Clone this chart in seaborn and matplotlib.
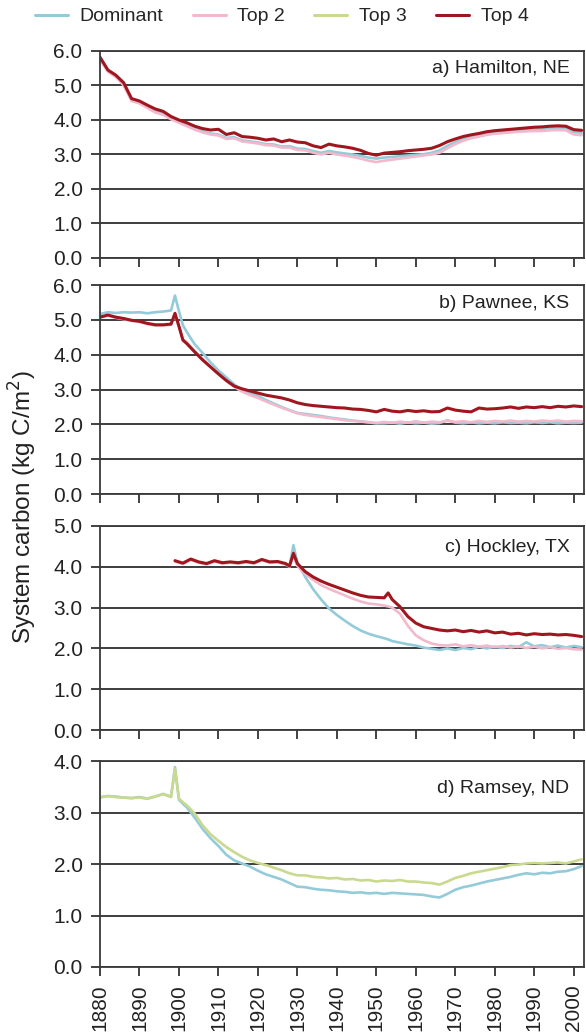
import numpy as np
import pandas as pd
import matplotlib
matplotlib.use("Agg")
import matplotlib.pyplot as plt
from matplotlib.lines import Line2D
import seaborn as sns

# ---------------- data ----------------
SERIES = ["Dominant", "Top 2", "Top 3", "Top 4"]
COLORS = {"Dominant": "#93cbd9", "Top 2": "#f2b8cc", "Top 3": "#c9da8e", "Top 4": "#a0161f"}
PANEL_LABELS = ["a) Hamilton, NE", "b) Pawnee, KS", "c) Hockley, TX", "d) Ramsey, ND"]
Y_MAX = [6.0, 6.0, 5.0, 4.0]
X_TICKS = list(range(1880, 2001, 10))

# Panel a: Hamilton, NE
A_YEARS = list(range(1880, 2003, 2))
A_TOP4 = [5.82, 5.45, 5.30, 5.08, 4.62, 4.55, 4.43, 4.32, 4.25, 4.10,
          4.00, 3.92, 3.82, 3.75, 3.71, 3.73, 3.58, 3.63, 3.52, 3.50,
          3.47, 3.42, 3.45, 3.37, 3.42, 3.36, 3.34, 3.25, 3.20, 3.30,
          3.25, 3.22, 3.18, 3.12, 3.03, 2.98, 3.04, 3.06, 3.08, 3.11,
          3.13, 3.15, 3.18, 3.26, 3.37, 3.45, 3.52, 3.57, 3.61, 3.66,
          3.69, 3.71, 3.73, 3.75, 3.77, 3.79, 3.80, 3.82, 3.83, 3.82,
          3.72, 3.70]
A_TOP2 = [5.75, 5.40, 5.25, 5.00, 4.55, 4.48, 4.35, 4.22, 4.15, 4.02,
          3.92, 3.82, 3.72, 3.64, 3.58, 3.55, 3.45, 3.47, 3.38, 3.35,
          3.32, 3.27, 3.26, 3.20, 3.20, 3.13, 3.12, 3.05, 3.00, 3.05,
          3.00, 2.97, 2.93, 2.88, 2.82, 2.78, 2.82, 2.85, 2.88, 2.91,
          2.94, 2.97, 3.00, 3.05, 3.18, 3.30, 3.40, 3.47, 3.52, 3.57,
          3.60, 3.62, 3.64, 3.66, 3.67, 3.68, 3.68, 3.70, 3.71, 3.70,
          3.58, 3.56]
A_DOM = [5.78, 5.43, 5.28, 5.03, 4.58, 4.51, 4.38, 4.25, 4.18, 4.05,
         3.95, 3.85, 3.75, 3.67, 3.61, 3.58, 3.48, 3.50, 3.41, 3.38,
         3.35, 3.30, 3.29, 3.23, 3.24, 3.17, 3.16, 3.10, 3.05, 3.10,
         3.06, 3.03, 3.00, 2.96, 2.91, 2.88, 2.91, 2.93, 2.95, 2.97,
         2.99, 3.01, 3.05, 3.12, 3.25, 3.36, 3.45, 3.51, 3.56, 3.61,
         3.64, 3.66, 3.68, 3.70, 3.72, 3.73, 3.74, 3.76, 3.77, 3.76,
         3.65, 3.63]

# Panels b and d share these years
BD_YEARS = list(range(1880, 1899, 2)) + [1899, 1900, 1901] + list(range(1902, 2003, 2))

# Panel b: Pawnee, KS
B_TOP4 = [5.08, 5.14, 5.08, 5.04, 4.99, 4.96, 4.90, 4.86, 4.86, 4.88,
          5.19, 4.82, 4.42,
          4.32, 4.08, 3.85, 3.65, 3.45, 3.26, 3.10, 3.02, 2.96, 2.90,
          2.84, 2.80, 2.76, 2.70, 2.62, 2.57, 2.54, 2.52, 2.50, 2.48,
          2.47, 2.44, 2.43, 2.40, 2.36, 2.43, 2.38, 2.36, 2.40, 2.37,
          2.39, 2.36, 2.37, 2.47, 2.41, 2.38, 2.36, 2.47, 2.44, 2.45,
          2.47, 2.50, 2.46, 2.50, 2.48, 2.51, 2.48, 2.52, 2.50, 2.53,
          2.51]
B_TOP2 = [5.06, 5.12, 5.06, 5.02, 4.97, 4.94, 4.88, 4.84, 4.84, 4.86,
          5.15, 4.80, 4.45,
          4.35, 4.10, 3.88, 3.65, 3.45, 3.25, 3.08, 2.94, 2.84, 2.76,
          2.66, 2.57, 2.48, 2.40, 2.32, 2.27, 2.24, 2.21, 2.18, 2.15,
          2.12, 2.10, 2.08, 2.06, 2.04, 2.07, 2.04, 2.08, 2.05, 2.09,
          2.05, 2.08, 2.06, 2.10, 2.07, 2.09, 2.06, 2.10, 2.07, 2.10,
          2.08, 2.11, 2.08, 2.10, 2.08, 2.11, 2.09, 2.11, 2.08, 2.10,
          2.09]
B_DOM = [5.17, 5.22, 5.20, 5.22, 5.21, 5.22, 5.19, 5.22, 5.24, 5.27,
         5.70, 5.25, 4.85,
         4.65, 4.30, 4.05, 3.78, 3.55, 3.35, 3.15, 2.98, 2.90, 2.82,
         2.70, 2.60, 2.50, 2.41, 2.33, 2.30, 2.27, 2.24, 2.20, 2.17,
         2.14, 2.11, 2.09, 2.06, 2.03, 2.03, 2.05, 2.02, 2.06, 2.03,
         2.05, 2.02, 2.04, 2.12, 2.05, 2.03, 2.06, 2.03, 2.05, 2.03,
         2.06, 2.04, 2.05, 2.03, 2.06, 2.04, 2.06, 2.03, 2.05, 2.04,
         2.05]

# Panel c: Hockley, TX
C_YEARS = (list(range(1899, 1928, 2)) + [1928, 1929, 1930] + list(range(1932, 1953, 2))
           + [1953, 1954] + list(range(1956, 2003, 2)))
C_TOP4 = [4.15, 4.09, 4.19, 4.12, 4.08, 4.15, 4.10, 4.12, 4.10, 4.13,
          4.10, 4.18, 4.12, 4.13, 4.08,
          4.02, 4.33, 4.08,
          3.88, 3.75, 3.65, 3.57, 3.50, 3.43, 3.36, 3.30, 3.26, 3.25, 3.24,
          3.36, 3.20,
          3.02, 2.78, 2.62, 2.53, 2.49, 2.45, 2.43, 2.45, 2.41, 2.44,
          2.40, 2.43, 2.38, 2.40, 2.35, 2.37, 2.33, 2.36, 2.34, 2.35,
          2.33, 2.34, 2.32, 2.29]
C_TOP2 = [4.13, 4.07, 4.17, 4.10, 4.06, 4.13, 4.08, 4.10, 4.08, 4.11,
          4.08, 4.16, 4.10, 4.11, 4.06,
          4.00, 4.28, 4.02,
          3.82, 3.68, 3.55, 3.46, 3.38, 3.30, 3.22, 3.15, 3.10, 3.08, 3.05,
          3.03, 3.00,
          2.85, 2.55, 2.32, 2.20, 2.12, 2.08, 2.07, 2.10, 2.05, 2.08,
          2.04, 2.07, 2.03, 2.06, 2.02, 2.05, 2.01, 2.04, 2.00, 2.03,
          1.99, 2.01, 1.98, 1.97]
C_DOM = [4.14, 4.08, 4.18, 4.11, 4.07, 4.14, 4.09, 4.11, 4.09, 4.12,
         4.09, 4.17, 4.11, 4.12, 4.07,
         4.01, 4.53, 4.10,
         3.75, 3.45, 3.20, 2.98, 2.82, 2.68, 2.55, 2.44, 2.36, 2.30, 2.25,
         2.22, 2.18,
         2.14, 2.10, 2.07, 2.02, 1.99, 1.96, 2.00, 1.96, 2.01, 1.98,
         2.04, 2.00, 2.04, 2.01, 2.06, 2.03, 2.15, 2.05, 2.08, 2.03,
         2.07, 2.02, 2.06, 2.03]

# Panel d: Ramsey, ND
D_TOP3 = [3.29, 3.32, 3.30, 3.29, 3.28, 3.29, 3.27, 3.31, 3.36, 3.30,
          3.85, 3.27, 3.20,
          3.14, 2.98, 2.75, 2.58, 2.45, 2.33, 2.23, 2.14, 2.07, 2.02,
          1.98, 1.93, 1.88, 1.82, 1.78, 1.78, 1.75, 1.74, 1.72, 1.73,
          1.70, 1.71, 1.68, 1.69, 1.66, 1.68, 1.67, 1.69, 1.66, 1.66,
          1.64, 1.63, 1.60, 1.66, 1.73, 1.77, 1.82, 1.85, 1.88, 1.91,
          1.94, 1.98, 1.99, 2.01, 2.02, 2.01, 2.02, 2.03, 2.01, 2.05,
          2.09]
D_DOM = [3.30, 3.32, 3.31, 3.29, 3.28, 3.30, 3.27, 3.31, 3.36, 3.31,
         3.88, 3.25, 3.17,
         3.10, 2.90, 2.68, 2.50, 2.35, 2.18, 2.07, 2.01, 1.95, 1.87,
         1.80, 1.75, 1.70, 1.63, 1.56, 1.55, 1.52, 1.50, 1.49, 1.47,
         1.46, 1.44, 1.45, 1.43, 1.44, 1.42, 1.44, 1.43, 1.42, 1.41,
         1.40, 1.37, 1.35, 1.42, 1.50, 1.55, 1.58, 1.62, 1.66, 1.69,
         1.72, 1.75, 1.79, 1.82, 1.80, 1.83, 1.82, 1.85, 1.86, 1.90,
         1.96]

PANELS = [
    (A_YEARS, {"Dominant": A_DOM, "Top 2": A_TOP2, "Top 4": A_TOP4}),
    (BD_YEARS, {"Dominant": B_DOM, "Top 2": B_TOP2, "Top 4": B_TOP4}),
    (C_YEARS, {"Dominant": C_DOM, "Top 2": C_TOP2, "Top 4": C_TOP4}),
    (BD_YEARS, {"Dominant": D_DOM, "Top 3": D_TOP3}),
]

# ---------------- style ----------------
sns.set_style("white")
plt.rcParams["font.family"] = ["Liberation Sans", "DejaVu Sans"]
plt.rcParams["font.size"] = 14

fig = plt.figure(figsize=(5.86, 10.34), dpi=100)

# axes rectangles (left, bottom, width, height) in figure fraction
RECTS = [
    (0.1706, 0.7505, 0.826, 0.2002),
    (0.1706, 0.5222, 0.826, 0.2021),
    (0.1706, 0.2940, 0.826, 0.1973),
    (0.1706, 0.0648, 0.826, 0.1992),
]
LABEL_Y = [0.913, 0.914, 0.897, 0.869]

for i, ((years, series), rect) in enumerate(zip(PANELS, RECTS)):
    ax = fig.add_axes(rect)
    frames = []
    for name in SERIES:
        if name in series:
            frames.append(pd.DataFrame({"year": years, "carbon": series[name], "series": name}))
    df = pd.concat(frames, ignore_index=True)
    for name in SERIES:
        if name in series:
            sub = df[df["series"] == name]
            sns.lineplot(data=sub, x="year", y="carbon", color=COLORS[name], ax=ax,
                         linewidth=2.2 if name == "Top 4" else 1.9, legend=False)
    ax.set_xlim(1880, 2002.6)
    ax.set_ylim(0, Y_MAX[i])
    ticks = np.arange(0, Y_MAX[i] + 0.01, 1.0)
    ax.set_yticks(ticks)
    ax.set_yticklabels([f"{v:.1f}" for v in ticks])
    ax.set_xticks(X_TICKS)
    if i == 3:
        ax.set_xticklabels([str(t) for t in X_TICKS], rotation=90)
    else:
        ax.set_xticklabels([])
    ax.set_xlabel("")
    ax.set_ylabel("")
    ax.yaxis.grid(True, color="#2e2e2e", linewidth=1.3)
    ax.xaxis.grid(False)
    ax.set_axisbelow(True)
    for sp in ax.spines.values():
        sp.set_visible(True)
        sp.set_color("#3a3a3a")
        sp.set_linewidth(1.3)
    ax.tick_params(axis="both", direction="out", length=6.5, width=1.3, color="#333333",
                   labelsize=15, labelcolor="#222222", pad=6,
                   bottom=True, left=True)
    ax.text(0.97, LABEL_Y[i], PANEL_LABELS[i], transform=ax.transAxes,
            ha="right", va="center", fontsize=14, color="#222222")

fig.text(0.039, 0.509, "System carbon (kg C/m$^2$)", rotation=90, ha="center", va="center",
         fontsize=17.5, color="#222222")

handles = [Line2D([0], [0], color=COLORS[s], linewidth=2.2) for s in SERIES]
fig.legend(handles, SERIES, loc="center", bbox_to_anchor=(0.481, 0.984), ncol=4,
           frameon=False, fontsize=14, handlelength=1.7, handletextpad=0.6,
           columnspacing=1.5, borderaxespad=0)

fig.savefig("out.png", dpi=100)
